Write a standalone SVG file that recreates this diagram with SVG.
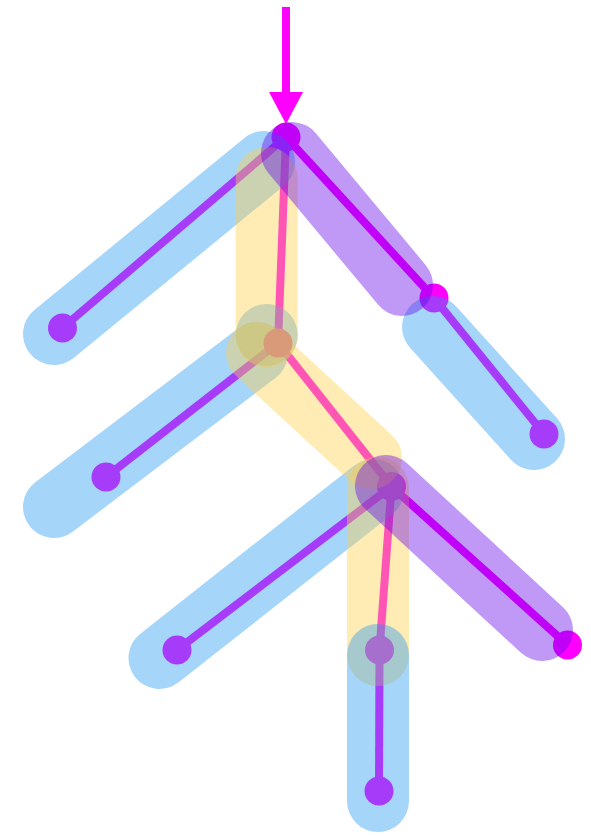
<svg xmlns="http://www.w3.org/2000/svg" width="591" height="836" viewBox="0 0 591 836">
  <style>
    .thin { stroke: #ff00ff; stroke-width: 8; fill: none; }
    .dot { fill: #ff00ff; }
    .band { fill: none; stroke-width: 62; stroke-linecap: round; }
    .blue { stroke: #2196f3; stroke-opacity: 0.4; }
    .blue-fill { fill: #2196f3; fill-opacity: 0.4; }
    .yellow { stroke: #ffcf48; stroke-opacity: 0.41; }
    .purple { stroke: #6200ea; stroke-opacity: 0.4; }
  </style>
  <rect width="591" height="836" fill="#ffffff"/>
  <g id="connectors">
    <line class="thin" x1="286" y1="137" x2="62.5" y2="328"/>
    <line class="thin" x1="286" y1="137" x2="434" y2="298"/>
    <line class="thin" x1="434" y1="298" x2="544" y2="434"/>
    <line class="thin" x1="286" y1="137" x2="278" y2="343"/>
    <line class="thin" x1="278" y1="343" x2="106" y2="477"/>
    <line class="thin" x1="278" y1="343" x2="391.5" y2="486.5"/>
    <line class="thin" x1="391.5" y1="486.5" x2="177" y2="650"/>
    <line class="thin" x1="391.5" y1="486.5" x2="567.5" y2="645"/>
    <line class="thin" x1="391.5" y1="486.5" x2="379.5" y2="650"/>
    <line class="thin" x1="379.5" y1="650" x2="379" y2="791"/>
  </g>
  <g id="arrow">
    <line x1="286" y1="7" x2="286" y2="94" stroke="#ff00ff" stroke-width="8"/>
    <polygon points="269,92 303,92 286,124" fill="#ff00ff"/>
  </g>
  <g id="nodes">
    <circle id="n-root" class="dot" cx="286" cy="137" r="14.5"/>
    <circle id="n-a" class="dot" cx="62.5" cy="328" r="14.5"/>
    <circle id="n-b" class="dot" cx="434" cy="298" r="14.5"/>
    <circle id="n-c" class="dot" cx="544" cy="434" r="14.5"/>
    <circle id="n-e" class="dot" cx="106" cy="477" r="14.5"/>
    <circle id="n-f" class="dot" cx="391.5" cy="486.5" r="14.5"/>
    <circle id="n-g" class="dot" cx="177" cy="650" r="14.5"/>
    <circle id="n-h" class="dot" cx="567.5" cy="645" r="14.5"/>
    <circle id="n-i" class="dot" cx="379.5" cy="650" r="14.5"/>
    <circle id="n-j" class="dot" cx="379" cy="791" r="14.5"/>
  </g>
  <g id="bands-blue">
    <line class="band blue" x1="54" y1="334" x2="264" y2="162"/>
    <line class="band blue" x1="54" y1="507" x2="257" y2="353"/>
    <circle class="blue-fill" cx="266.7" cy="335" r="31"/>
    <line class="band blue" x1="433" y1="327" x2="534" y2="439"/>
    <line class="band blue" x1="159.5" y1="658" x2="373" y2="490"/>
  </g>
  <g id="bands-yellow">
    <line class="band yellow" x1="266.7" y1="178" x2="266.7" y2="336"/>
    <line class="band yellow" x1="257" y1="353" x2="371" y2="458"/>
    <line class="band yellow" x1="378" y1="488" x2="378" y2="655"/>
  </g>
  <g id="bands-blue-low">
    <line class="band blue" x1="378" y1="655" x2="378" y2="801"/>
  </g>
  <g id="bands-purple">
    <line class="band purple" x1="292" y1="153" x2="402" y2="285"/>
    <line class="band purple" x1="386" y1="486" x2="542" y2="630"/>
  </g>
  <g id="n-d"><circle cx="278" cy="343" r="14.5" fill="#d89a78"/></g>
</svg>
